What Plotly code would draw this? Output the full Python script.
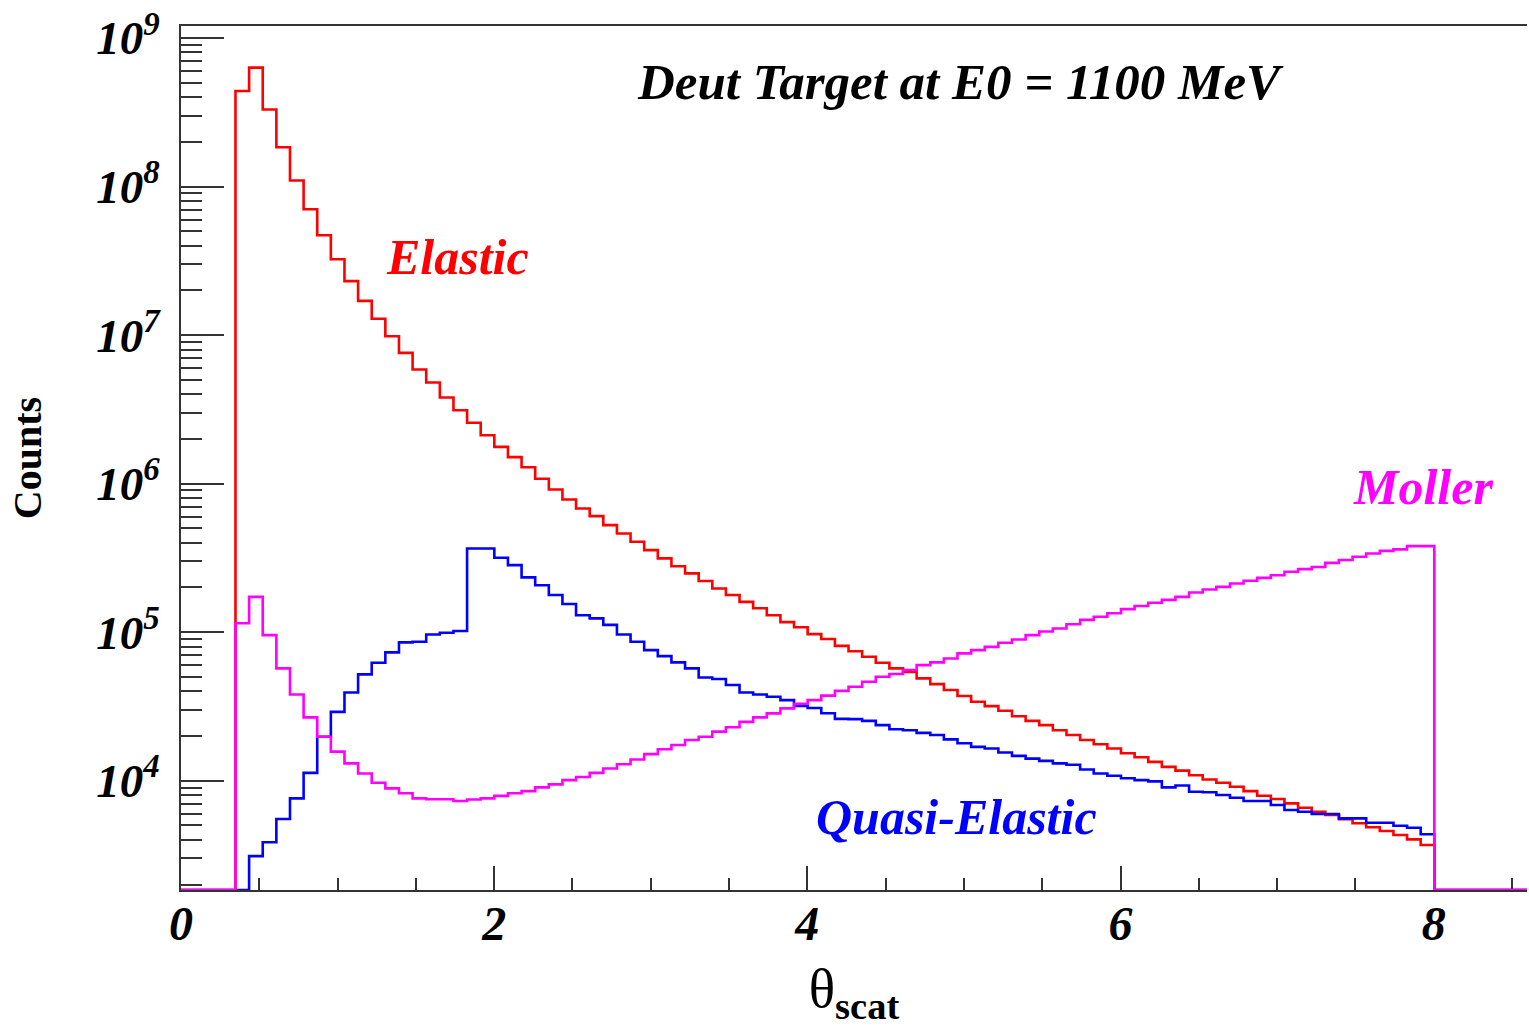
import numpy as np
import plotly.graph_objects as go

# ---- histogram binning (100 bins of width 0.087 starting at 0) ----
bin_width = 0.087
n_bins = 100
first_bin = 4  # first filled bin index

# ---- bin contents, bins 4 .. 91 ----
elastic = [4.40e8, 6.32e8, 3.30e8, 1.84e8, 1.10e8, 7.04e7, 4.70e7, 3.24e7, 2.31e7, 1.70e7,
           1.29e7, 9.83e6, 7.59e6, 5.87e6, 4.80e6, 3.80e6, 3.12e6, 2.57e6, 2.12e6, 1.77e6,
           1.51e6, 1.29e6, 1.08e6, 9.14e5, 7.83e5, 6.81e5, 6.05e5, 5.26e5, 4.62e5, 4.06e5,
           3.57e5, 3.14e5, 2.78e5, 2.49e5, 2.21e5, 1.97e5, 1.78e5, 1.60e5, 1.45e5, 1.30e5,
           1.17e5, 1.08e5, 9.71e4, 8.99e4, 8.09e4, 7.44e4, 6.83e4, 6.23e4, 5.71e4, 5.41e4,
           4.89e4, 4.47e4, 4.08e4, 3.72e4, 3.40e4, 3.18e4, 2.96e4, 2.72e4, 2.53e4, 2.37e4,
           2.19e4, 2.03e4, 1.88e4, 1.76e4, 1.65e4, 1.53e4, 1.44e4, 1.34e4, 1.24e4, 1.17e4,
           1.09e4, 1.02e4, 9.69e3, 9.11e3, 8.52e3, 7.93e3, 7.53e3, 7.04e3, 6.58e3, 6.19e3,
           5.88e3, 5.50e3, 5.17e3, 4.86e3, 4.59e3, 4.31e3, 4.03e3, 3.69e3]

quasi_elastic = [0, 3.11e3, 3.85e3, 5.53e3, 7.61e3, 1.13e4, 1.98e4, 2.91e4, 3.93e4, 5.20e4,
                 6.23e4, 7.31e4, 8.54e4, 8.62e4, 9.66e4, 9.91e4, 1.02e5, 3.66e5, 3.66e5, 3.17e5,
                 2.83e5, 2.34e5, 2.07e5, 1.78e5, 1.55e5, 1.30e5, 1.24e5, 1.12e5, 9.66e4, 8.62e4,
                 7.58e4, 6.90e4, 6.26e4, 5.71e4, 4.96e4, 4.84e4, 4.41e4, 3.93e4, 3.81e4, 3.68e4,
                 3.49e4, 3.19e4, 3.09e4, 2.85e4, 2.61e4, 2.60e4, 2.53e4, 2.37e4, 2.22e4, 2.19e4,
                 2.10e4, 2.03e4, 1.90e4, 1.79e4, 1.69e4, 1.65e4, 1.55e4, 1.47e4, 1.41e4, 1.36e4,
                 1.31e4, 1.28e4, 1.19e4, 1.12e4, 1.08e4, 1.04e4, 1.01e4, 9.91e3, 9.03e3, 9.28e3,
                 8.44e3, 8.36e3, 8.01e3, 7.68e3, 7.30e3, 7.30e3, 6.86e3, 6.35e3, 6.19e3, 5.97e3,
                 5.97e3, 5.58e3, 5.58e3, 5.22e3, 5.22e3, 4.98e3, 4.83e3, 4.36e3]

moller = [1.15e5, 1.73e5, 9.56e4, 5.71e4, 3.81e4, 2.67e4, 1.98e4, 1.57e4, 1.31e4, 1.12e4,
          9.69e3, 8.89e3, 8.23e3, 7.61e3, 7.50e3, 7.50e3, 7.30e3, 7.48e3, 7.61e3, 7.91e3,
          8.23e3, 8.52e3, 9.03e3, 9.46e3, 1.01e4, 1.06e4, 1.13e4, 1.21e4, 1.29e4, 1.39e4,
          1.51e4, 1.63e4, 1.74e4, 1.88e4, 1.98e4, 2.14e4, 2.29e4, 2.49e4, 2.67e4, 2.84e4,
          3.07e4, 3.30e4, 3.49e4, 3.74e4, 4.03e4, 4.29e4, 4.64e4, 5.01e4, 5.23e4, 5.56e4,
          6.00e4, 6.26e4, 6.66e4, 7.20e4, 7.58e4, 7.97e4, 8.49e4, 8.94e4, 9.56e4, 1.01e5,
          1.06e5, 1.13e5, 1.21e5, 1.27e5, 1.34e5, 1.43e5, 1.50e5, 1.58e5, 1.65e5, 1.73e5,
          1.85e5, 1.94e5, 2.02e5, 2.13e5, 2.22e5, 2.32e5, 2.42e5, 2.55e5, 2.66e5, 2.75e5,
          2.93e5, 3.06e5, 3.22e5, 3.39e5, 3.53e5, 3.61e5, 3.80e5, 3.80e5]

x_tick_vals = [0, 2, 4, 6, 8]
x_tick_text = ["0", "2", "4", "6", "8"]
y_tick_exps = [4, 5, 6, 7, 8, 9]

series = [("Elastic", elastic, "#ff0000"),
          ("Quasi-Elastic", quasi_elastic, "#0000ff"),
          ("Moller", moller, "#ff00ff")]

# axis ranges
x_range = [0, 8.596]
ylog_range = [3.2645, 9.081]
y_floor = 10 ** ylog_range[0]

FONT = "Liberation Serif"

edges = np.arange(n_bins + 1) * bin_width

fig = go.Figure()
for name, vals, color in series:
    full = np.zeros(n_bins)
    full[first_bin:first_bin + len(vals)] = vals
    full = np.where(full > 0, full, y_floor)
    y = np.append(full, full[-1])
    fig.add_trace(go.Scatter(x=edges, y=y, mode="lines", name=name,
                             line=dict(color=color, width=2.6, shape="hv"),
                             showlegend=False, hoverinfo="skip"))

y_minor = [m * 10 ** e for e in range(3, 9) for m in range(2, 10)]

fig.update_layout(
    width=1529, height=1027,
    margin=dict(l=181, r=2, t=26, b=137),
    paper_bgcolor="white", plot_bgcolor="white",
    font=dict(family=FONT, color="black"),
    xaxis=dict(
        range=x_range, showgrid=False, zeroline=False,
        showline=True, linecolor="#333333", linewidth=2, mirror=True,
        ticks="inside", ticklen=24, tickwidth=1.5, tickcolor="#333333",
        tickmode="array", tickvals=x_tick_vals,
        ticktext=[f"<b><i>{t}</i></b>" for t in x_tick_text],
        tickfont=dict(family=FONT, size=48, color="black"),
        ticklabelstandoff=-10,
        minor=dict(ticks="inside", ticklen=12, tickwidth=1.5, tickcolor="#333333",
                   dtick=0.5, tick0=0, showgrid=False),
        layer="below traces",
        title=dict(text="θ<sub><b>scat</b></sub>",
                   font=dict(family=FONT, size=55, color="black"), standoff=22),
    ),
    yaxis=dict(
        type="log", range=ylog_range, showgrid=False, zeroline=False,
        showline=True, linecolor="#333333", linewidth=2,
        ticks="inside", ticklen=43, tickwidth=1.5, tickcolor="#333333",
        tickmode="array", tickvals=[10 ** e for e in y_tick_exps],
        ticktext=[f"<b><i>10<sup>{e}</sup></i></b>" for e in y_tick_exps],
        tickfont=dict(family=FONT, size=47, color="black"),
        ticklabelstandoff=10,
        minor=dict(ticks="inside", ticklen=21, tickwidth=1.5, tickcolor="#333333",
                   tickmode="array", tickvals=y_minor, showgrid=False),
        title=dict(text="<b>Counts</b>", font=dict(family=FONT, size=40, color="black"),
                   standoff=42),
    ),
)

annots = [
    ("Deut Target at E0 = 1100 MeV", 4.976, 8.702, "black", 51),
    ("Elastic", 1.764, 7.524, "#ff0000", 50),
    ("Moller", 7.933, 5.976, "#ff00ff", 50),
    ("Quasi-Elastic", 4.951, 3.756, "#0000ff", 50),
]
for txt, ax_, ay_, col, sz in annots:
    fig.add_annotation(x=ax_, y=ay_, xref="x", yref="y", text=f"<b><i>{txt}</i></b>",
                       showarrow=False, font=dict(family=FONT, size=sz, color=col),
                       xanchor="center", yanchor="middle")

fig.write_html("out.html")
